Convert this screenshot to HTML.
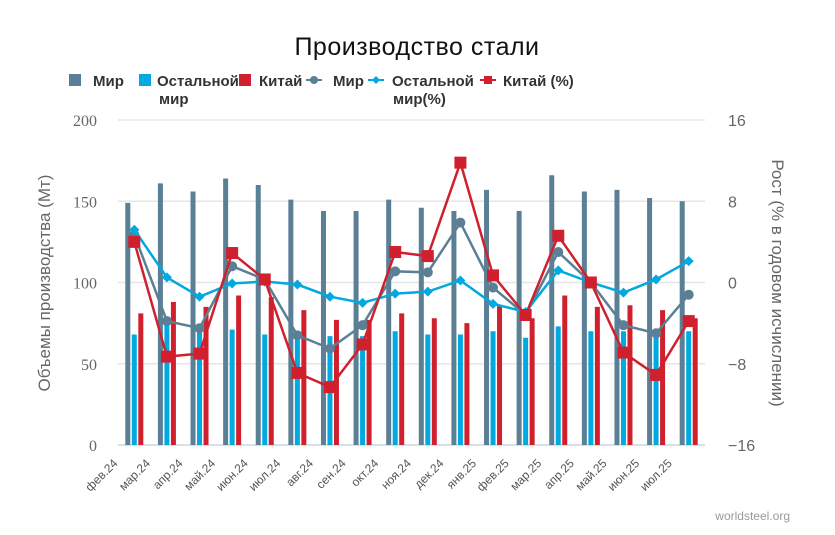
<!DOCTYPE html>
<html><head><meta charset="utf-8"><style>
body{margin:0;background:#fff;}
svg{display:block;font-family:"Liberation Sans",sans-serif;}
</style></head><body>
<svg id="chart" width="835" height="535" viewBox="0 0 835 535">
<text x="417" y="55" text-anchor="middle" font-size="25" fill="#111" letter-spacing="0.5">Производство стали</text>
<g id="legend" font-size="15" font-weight="bold" fill="#333">
 <g><rect x="69" y="74" width="12" height="12" fill="#5b7f95"/><text x="93" y="86">Мир</text></g>
 <g><rect x="139" y="74" width="12" height="12" fill="#00a9e0"/><text x="157" y="86">Остальной</text><text x="159" y="104">мир</text></g>
 <g><rect x="239" y="74" width="12" height="12" fill="#d0202e"/><text x="259" y="86">Китай</text></g>
 <g><line x1="306" y1="80" x2="322" y2="80" stroke="#5b7f95" stroke-width="2"/><circle cx="314" cy="80" r="4" fill="#5b7f95"/><text x="333" y="86">Мир</text></g>
 <g><line x1="368" y1="80" x2="384" y2="80" stroke="#00a9e0" stroke-width="2"/><path d="M376 76 L380 80 L376 84 L372 80Z" fill="#00a9e0"/><text x="392" y="86">Остальной</text><text x="393" y="104">мир(%)</text></g>
 <g><line x1="480" y1="80" x2="496" y2="80" stroke="#d0202e" stroke-width="2"/><rect x="484" y="76" width="8" height="8" fill="#d0202e"/><text x="503" y="86">Китай (%)</text></g>
</g>
<text transform="translate(50,283) rotate(-90)" text-anchor="middle" font-size="17" fill="#666">Объемы производства (Мт)</text>
<text transform="translate(772,283) rotate(90)" text-anchor="middle" font-size="17" fill="#666">Рост (% в годовом исчислении)</text>
<text x="790" y="520" text-anchor="end" font-size="12" fill="#999">worldsteel.org</text>
<g id="grid"></g><g id="bars"></g><g id="lines"></g><g id="axes"></g>
</svg>
<script>
const categories=["фев.24","мар.24","апр.24","май.24","июн.24","июл.24","авг.24","сен.24","окт.24","ноя.24","дек.24","янв.25","фев.25","мар.25","апр.25","май.25","июн.25","июл.25"];
const worldProd=[149,161,156,164,160,151,144,144,151,146,144,157,144,166,156,157,152,150];
const restProd=[68,74,72,71,68,68,67,67,70,68,68,70,66,73,70,70,69,70];
const chinaProd=[81,88,85,92,91,83,77,77,81,78,75,86,78,92,85,86,83,78];
const worldGrowth=[4.7,-3.8,-4.5,1.6,0.3,-5.2,-6.5,-4.2,1.1,1.0,5.9,-0.5,-3.2,3.0,0,-4.2,-5.0,-1.2];
const restGrowth=[5.2,0.5,-1.4,-0.1,0.1,-0.2,-1.4,-2.0,-1.1,-0.9,0.2,-2.1,-2.9,1.2,0,-1.0,0.3,2.1];
const chinaGrowth=[4.0,-7.3,-7.0,2.9,0.3,-8.9,-10.3,-6.1,3.0,2.6,11.8,0.7,-3.2,4.6,0,-6.9,-9.1,-3.8];
const leftTicks=[0,50,100,150,200];
const rightTicks=["−16","−8","0","8","16"];
const rightTickVals=[-16,-8,0,8,16];

const NS="http://www.w3.org/2000/svg";
const X0=118,X1=705,Y0=445,Y1=120;
const bw=(X1-X0)/categories.length;
const cx=i=>X0+bw*(i+0.5);
const yL=v=>Y0-(v/200)*(Y0-Y1);
const yR=v=>Y0-((v+16)/32)*(Y0-Y1);
function mk(tag,attrs,parent,text){const e=document.createElementNS(NS,tag);for(const k in attrs)e.setAttribute(k,attrs[k]);if(text!==undefined)e.textContent=text;parent.appendChild(e);return e;}
const grid=document.getElementById('grid'),bars=document.getElementById('bars'),lines=document.getElementById('lines'),axes=document.getElementById('axes');
leftTicks.forEach((t,i)=>{
 const g=mk('line',{x1:X0,x2:X1,y1:yL(t),y2:yL(t),stroke:t===0?'#ccd6e0':'#e6e6e6','stroke-width':1.5},grid);
 
 
 const l=mk('text',{x:97,y:yL(t)+6,'text-anchor':'end','font-size':16,fill:'#666','font-family':'"Liberation Serif",serif'},axes,String(t));
 
 
});
rightTickVals.forEach((v,i)=>{
 const l=mk('text',{x:728,y:yR(v)+6,'text-anchor':'start','font-size':16,fill:'#666'},axes,rightTicks[i]);
 
 
});
categories.forEach((c,i)=>{
 const x=cx(i);
 const l=mk('text',{x:0,y:0,'text-anchor':'end','font-size':12,fill:'#555',transform:`translate(${x-16},${464}) rotate(-45)`},axes,c);
 
 
 const b1=mk('rect',{x:x-9,y:yL(worldProd[i]),width:5,height:Y0-yL(worldProd[i]),fill:'#5b7f95'},bars);
 
 
 const b2=mk('rect',{x:x-2.5,y:yL(restProd[i]),width:5,height:Y0-yL(restProd[i]),fill:'#00a9e0'},bars);
 
 
 const b3=mk('rect',{x:x+4,y:yL(chinaProd[i]),width:5,height:Y0-yL(chinaProd[i]),fill:'#d0202e'},bars);
 
 
});
function series(vals,color,shape,name){
 const p=mk('polyline',{points:vals.map((v,i)=>`${cx(i)},${yR(v)}`).join(' '),fill:'none',stroke:color,'stroke-width':2.5},lines);
 
 
 vals.forEach((v,i)=>{
  const x=cx(i),y=yR(v);let m;
  if(shape==='c')m=mk('circle',{cx:x,cy:y,r:5,fill:color},lines);
  else if(shape==='d')m=mk('path',{d:`M${x} ${y-5}L${x+5} ${y}L${x} ${y+5}L${x-5} ${y}Z`,fill:color},lines);
  else m=mk('rect',{x:x-6,y:y-6,width:12,height:12,fill:color},lines);
  
  
 });
}
series(worldGrowth,'#5b7f95','c','world-growth');
series(restGrowth,'#00a9e0','d','rest-growth');
series(chinaGrowth,'#d0202e','s','china-growth');
</script>
</body></html>
